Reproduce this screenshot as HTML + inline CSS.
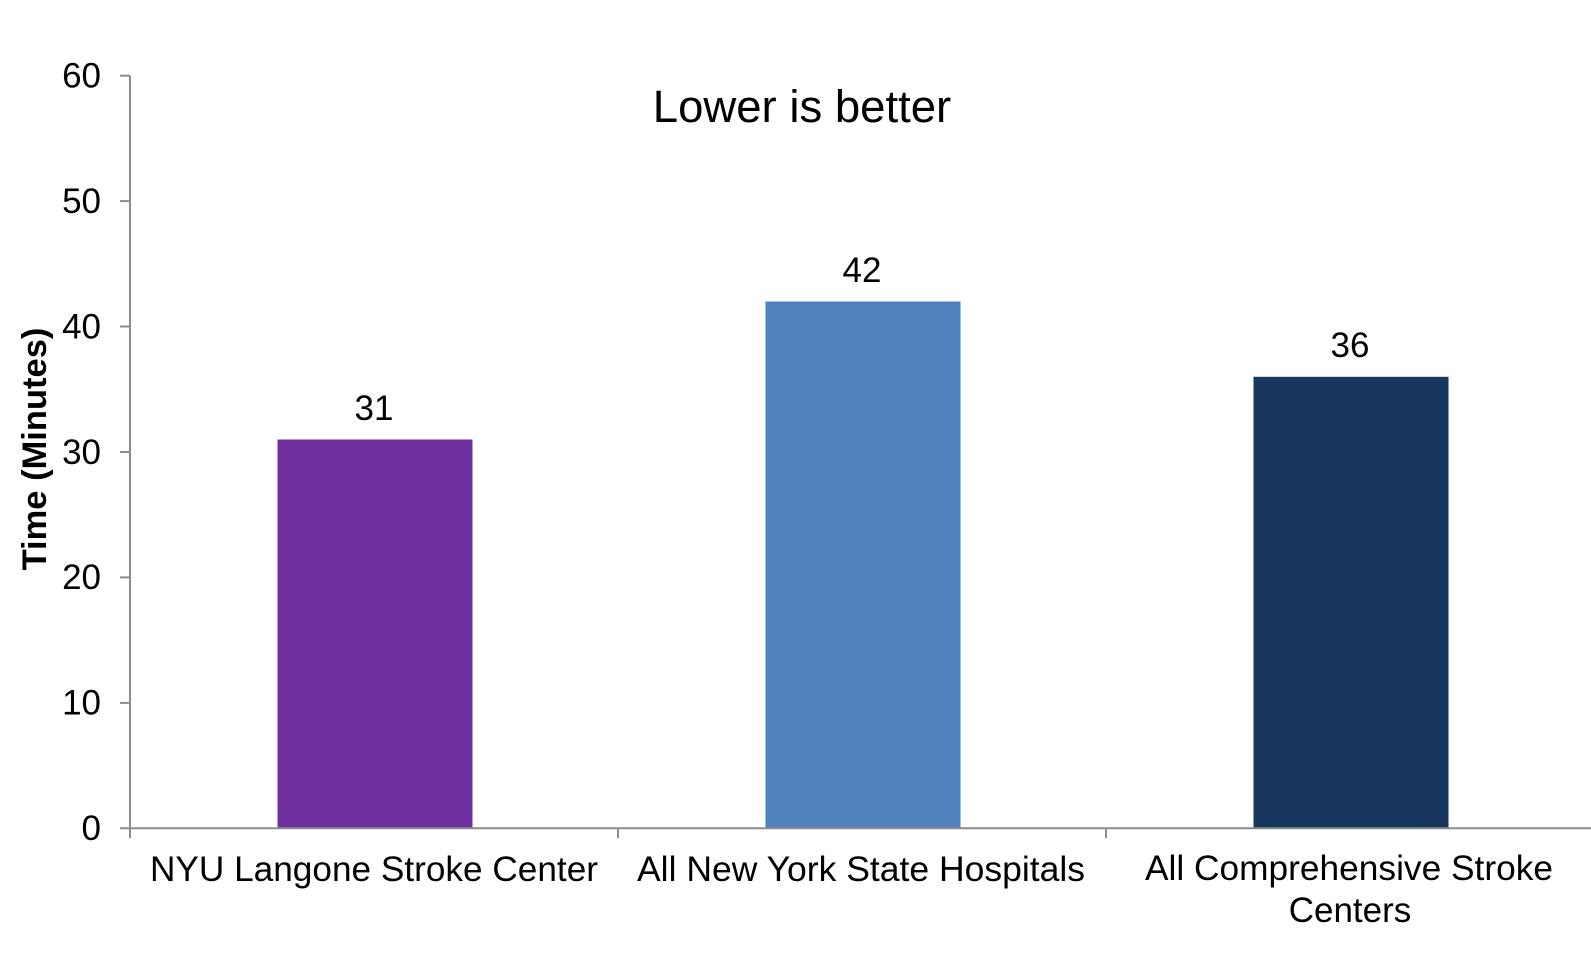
<!DOCTYPE html>
<html>
<head>
<meta charset="utf-8">
<style>
  html, body { margin: 0; padding: 0; background: #ffffff; }
  svg { display: block; }
  text { font-family: "Liberation Sans", Arial, sans-serif; fill: #000; }
</style>
</head>
<body>
<svg width="1591" height="979" viewBox="0 0 1591 979" xmlns="http://www.w3.org/2000/svg">
  <rect x="0" y="0" width="1591" height="979" fill="#ffffff"/>

  <!-- Bars -->
  <rect x="277.5" y="439.5" width="195" height="388.8" fill="#7030A0"/>
  <rect x="765.5" y="301.5" width="195" height="526.8" fill="#4F81BD"/>
  <rect x="1253.5" y="376.8" width="195" height="451.5" fill="#17375E"/>

  <!-- Y axis -->
  <g stroke="#8c8c8c" stroke-width="2" fill="none">
    <line x1="130" y1="75.7" x2="130" y2="838"/>
    <line x1="120" y1="75.7" x2="130" y2="75.7"/>
    <line x1="120" y1="201.1" x2="130" y2="201.1"/>
    <line x1="120" y1="326.5" x2="130" y2="326.5"/>
    <line x1="120" y1="452" x2="130" y2="452"/>
    <line x1="120" y1="577.4" x2="130" y2="577.4"/>
    <line x1="120" y1="702.9" x2="130" y2="702.9"/>
    <!-- X axis -->
    <line x1="120" y1="828.3" x2="1591" y2="828.3"/>
    <line x1="618" y1="828.3" x2="618" y2="838"/>
    <line x1="1106" y1="828.3" x2="1106" y2="838"/>
  </g>

  <!-- Y tick labels -->
  <g font-size="35" text-anchor="end">
    <text x="101" y="87.5">60</text>
    <text x="101" y="212.9">50</text>
    <text x="101" y="338.3">40</text>
    <text x="101" y="463.8">30</text>
    <text x="101" y="589.2">20</text>
    <text x="101" y="714.7">10</text>
    <text x="101" y="840.1">0</text>
  </g>

  <!-- Y axis title -->
  <text transform="translate(46,449) rotate(-90)" font-size="34.5" font-weight="bold" text-anchor="middle">Time (Minutes)</text>

  <!-- Chart title -->
  <text x="802" y="122" font-size="45.5" text-anchor="middle">Lower is better</text>

  <!-- Value labels -->
  <g font-size="35" text-anchor="middle">
    <text x="374" y="420">31</text>
    <text x="862" y="282">42</text>
    <text x="1350" y="357">36</text>
  </g>

  <!-- Category labels -->
  <g font-size="35" text-anchor="middle">
    <text x="374" y="881" textLength="448" lengthAdjust="spacingAndGlyphs">NYU Langone Stroke Center</text>
    <text x="861" y="881" textLength="448" lengthAdjust="spacingAndGlyphs">All New York State Hospitals</text>
    <text x="1349" y="880" textLength="408" lengthAdjust="spacingAndGlyphs">All Comprehensive Stroke</text>
    <text x="1350" y="922">Centers</text>
  </g>
</svg>
</body>
</html>
